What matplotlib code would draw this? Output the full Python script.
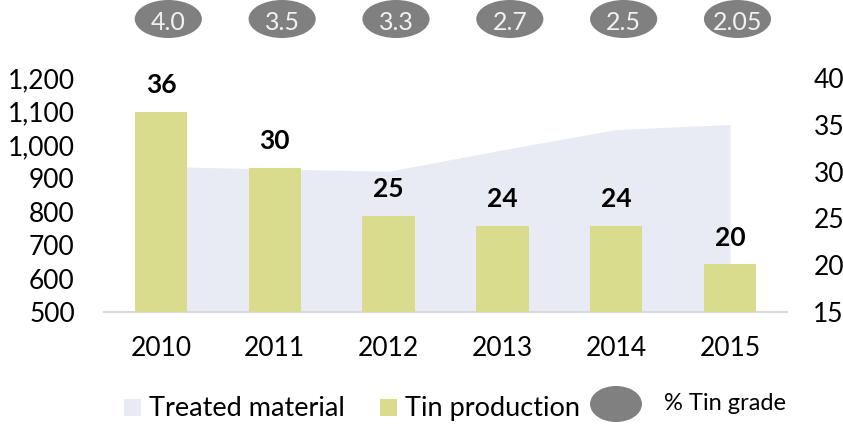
import matplotlib.pyplot as plt
from matplotlib.patches import Ellipse, Rectangle
from matplotlib.ticker import FuncFormatter
from matplotlib.transforms import blended_transform_factory

years = ["2010", "2011", "2012", "2013", "2014", "2015"]
treated_material = [935, 928, 921, 985, 1046, 1061]   # left axis
tin_production = [36.4, 30.4, 25.3, 24.2, 24.2, 20.1]  # right axis
tin_grade = ["4.0", "3.5", "3.3", "2.7", "2.5", "2.05"]

W, H = 843, 425
area_color = "#e9ebf4"
bar_color = "#d9dc8c"
grade_color = "#808080"

plt.rcParams['font.family'] = ['Lato', 'DejaVu Sans']
plt.rcParams['font.size'] = 19

fig = plt.figure(figsize=(W / 100, H / 100), dpi=100)
ax = fig.add_axes([104 / W, 1 - 312 / H, 683 / W, 234 / H])
ax2 = ax.twinx()

x = list(range(len(years)))

# treated material as a shaded area on the left axis
ax.fill_between(x, 500, treated_material, color=area_color, lw=0)
ax.set_xlim(-0.5, 5.5)
ax.set_ylim(500, 1200)
ax.set_yticks(range(500, 1201, 100))
ax.yaxis.set_major_formatter(FuncFormatter(lambda v, p: f"{v:,.0f}"))
ax.set_xticks(x)
ax.set_xticklabels(years)

# tin production bars on the right axis
ax2.bar(x, tin_production, width=0.46, color=bar_color, lw=0)
ax2.set_ylim(15, 40)
ax2.set_yticks(range(15, 41, 5))
for xi, v in zip(x, tin_production):
    ax2.annotate(f"{v:.0f}", (xi, v), xytext=(0, 19), textcoords='offset points',
                 ha='center', va='center', fontweight='bold', fontsize=19)

for a in (ax, ax2):
    for s in a.spines.values():
        s.set_visible(False)
    a.tick_params(length=0)
ax.spines['bottom'].set_visible(True)
ax.spines['bottom'].set_color('#d9d9d9')
ax.spines['bottom'].set_linewidth(1.5)
ax.tick_params(axis='y', pad=21)
ax.tick_params(axis='x', pad=17)
ax2.tick_params(axis='y', pad=19)

# grade bubbles along the top
trans = blended_transform_factory(ax.transData, fig.transFigure)
for xi, g in zip(x, tin_grade):
    fig.add_artist(Ellipse((xi + 0.065, 1 - 19 / H), 0.59, 38 / H,
                           transform=trans, color=grade_color, lw=0, zorder=1))
    fig.text(xi + 0.065, 1 - 22 / H, g, transform=trans, ha='center', va='center',
             color='#f2f2f2', fontsize=18, zorder=2)

# legend drawn by hand
def fx(px):
    return px / W

def fy(py):
    return 1 - py / H

fig.add_artist(Rectangle((fx(124), fy(416)), 17 / W, 17 / H, color=area_color, lw=0))
fig.text(fx(149), fy(416), "Treated material", va='baseline', fontsize=19.5)
fig.add_artist(Rectangle((fx(380), fy(416)), 17 / W, 17 / H, color=bar_color, lw=0))
fig.text(fx(405), fy(416), "Tin production", va='baseline', fontsize=19.5)
fig.add_artist(Ellipse((fx(616), fy(404)), 52 / W, 36 / H, color=grade_color, lw=0))
fig.text(fx(664), fy(404), "% Tin grade", va='center', fontsize=17)

fig.savefig("out.png", dpi=100)
